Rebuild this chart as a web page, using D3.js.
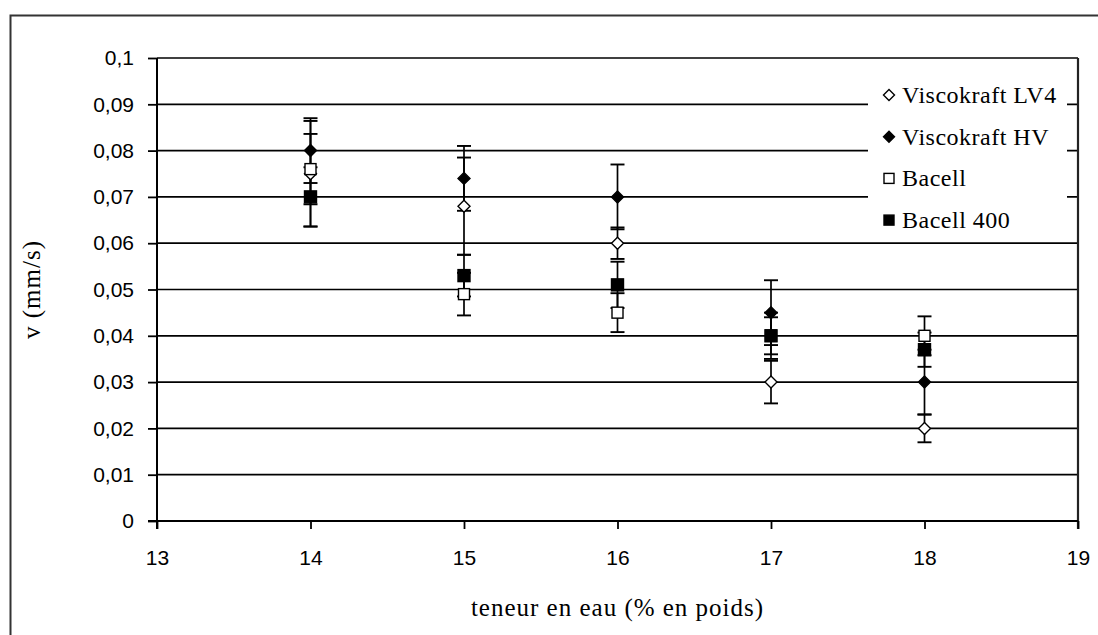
<!DOCTYPE html>
<html>
<head>
<meta charset="utf-8">
<script src="https://cdn.jsdelivr.net/npm/d3@7"></script>
<style>
  html, body { margin: 0; padding: 0; background: #fff; }
  svg { display: block; }
</style>
</head>
<body>
<svg id="chart" width="1098" height="635"></svg>
<script>
// ---- data ----
const xValues = [14, 15, 16, 17, 18];
const lv4 = [0.075, 0.068, 0.060, 0.030, 0.020];
const lv4Err = [0.0114, 0.0105, 0.0034, 0.0046, 0.003];
const hv = [0.080, 0.074, 0.070, 0.045, 0.030];
const hvErr = [0.007, 0.007, 0.007, 0.007, 0.007];
const bacell = [0.076, 0.049, 0.045, 0.040, 0.040];
const bacellErr = [0.0076, 0.0046, 0.0042, 0.004, 0.0042];
const bacell400 = [0.070, 0.053, 0.051, 0.040, 0.037];
const bacell400Err = [0.0064, 0.0045, 0.005, 0.005, 0.0037];
const seriesNames = ["Viscokraft LV4", "Viscokraft HV", "Bacell", "Bacell 400"];
const xTicks = [13, 14, 15, 16, 17, 18, 19];
const yTicks = [0, 0.01, 0.02, 0.03, 0.04, 0.05, 0.06, 0.07, 0.08, 0.09, 0.1];
const xTitle = "teneur en eau (% en poids)";
const yTitle = "v (mm/s)";

// ---- setup ----
const svg = d3.select("#chart");
const sansFont = "'Liberation Sans', Arial, sans-serif";
const serifFont = "'Liberation Serif', 'Times New Roman', serif";

const x = d3.scaleLinear().domain([13, 19]).range([157, 1078]);
const y = d3.scaleLinear().domain([0, 0.1]).range([521, 58]);

const series = [
  { name: seriesNames[0], vals: lv4, err: lv4Err, shape: "diamond", fill: "#fff" },
  { name: seriesNames[1], vals: hv, err: hvErr, shape: "diamond", fill: "#000" },
  { name: seriesNames[2], vals: bacell, err: bacellErr, shape: "square", fill: "#fff" },
  { name: seriesNames[3], vals: bacell400, err: bacell400Err, shape: "square", fill: "#000" }
];

// outer chart border
svg.append("rect")
  .attr("x", 10.5).attr("y", 15.5)
  .attr("width", 1200).attr("height", 700)
  .attr("fill", "#fff").attr("stroke", "#333").attr("stroke-width", 2);

// gridlines
svg.append("g").selectAll("line").data(yTicks.filter(d => d > 0)).join("line")
  .attr("x1", x(13)).attr("x2", x(19))
  .attr("y1", d => y(d)).attr("y2", d => y(d))
  .attr("stroke", "#000").attr("stroke-width", 1.7);

// right border line of plot
svg.append("line")
  .attr("x1", x(19)).attr("x2", x(19))
  .attr("y1", y(0.1)).attr("y2", y(0) + 8)
  .attr("stroke", "#222").attr("stroke-width", 2.2);

// axes
const fmt = d => d === 0 ? "0" : String(+d.toFixed(2)).replace(".", ",");
const yAxis = svg.append("g")
  .attr("transform", `translate(${x(13)},0)`)
  .call(d3.axisLeft(y).tickValues(yTicks).tickFormat(fmt).tickSize(9).tickPadding(14));
const xAxis = svg.append("g")
  .attr("transform", `translate(0,${y(0)})`)
  .call(d3.axisBottom(x).tickValues(xTicks).tickFormat(d3.format("d")).tickSize(8).tickPadding(21));

[yAxis, xAxis].forEach(a => {
  a.select(".domain").remove();
  a.selectAll(".tick line").attr("stroke", "#000").attr("stroke-width", 1.8);
  a.selectAll(".tick text").attr("fill", "#000")
    .style("font-family", sansFont).style("font-size", "21px");
});
// axis lines
svg.append("line").attr("x1", x(13)).attr("x2", x(13))
  .attr("y1", y(0.1)).attr("y2", y(0) + 8)
  .attr("stroke", "#000").attr("stroke-width", 2);
svg.append("line").attr("x1", x(13) - 9).attr("x2", x(19))
  .attr("y1", y(0)).attr("y2", y(0))
  .attr("stroke", "#000").attr("stroke-width", 2);

// error bars
const capHalf = 7;
const eg = svg.append("g");
series.forEach(s => {
  s.vals.forEach((v, i) => {
    const cx = x(xValues[i]);
    const top = y(v + s.err[i]), bot = y(v - s.err[i]);
    eg.append("line").attr("x1", cx).attr("x2", cx).attr("y1", top).attr("y2", bot)
      .attr("stroke", "#000").attr("stroke-width", 1.7);
    [top, bot].forEach(yy => {
      eg.append("line").attr("x1", cx - capHalf).attr("x2", cx + capHalf)
        .attr("y1", yy).attr("y2", yy)
        .attr("stroke", "#000").attr("stroke-width", 1.9);
    });
  });
});

// markers
function drawMarker(g, shape, fill, cx, cy, size) {
  const h = size / 2;
  if (shape === "diamond") {
    g.append("path")
      .attr("d", `M${cx},${cy - h}L${cx + h},${cy}L${cx},${cy + h}L${cx - h},${cy}Z`)
      .attr("fill", fill).attr("stroke", "#000").attr("stroke-width", 1.4);
  } else {
    g.append("rect").attr("x", cx - h).attr("y", cy - h)
      .attr("width", size).attr("height", size)
      .attr("fill", fill).attr("stroke", "#000").attr("stroke-width", 1.4);
  }
}
const mg = svg.append("g");
series.forEach(s => {
  s.vals.forEach((v, i) => {
    const sz = s.shape === "diamond" ? 12 : (s.fill === "#000" ? 12 : 11);
    drawMarker(mg, s.shape, s.fill, x(xValues[i]), y(v), sz);
  });
});

// legend
const lg = svg.append("g");
lg.append("rect").attr("x", 868).attr("y", 62).attr("width", 199).attr("height", 174)
  .attr("fill", "#fff");
series.forEach((s, i) => {
  const cy = 95 + i * 41.7;
  drawMarker(lg, s.shape, s.fill, 889, cy, s.shape === "diamond" ? 11 : 10);
  lg.append("text").attr("x", 902).attr("y", cy + 8)
    .style("font-family", serifFont).style("font-size", "24px")
    .style("letter-spacing", "0.5px")
    .attr("fill", "#000").text(s.name);
});

// axis titles
svg.append("text").attr("x", (x(13) + x(19)) / 2).attr("y", 616)
  .attr("text-anchor", "middle")
  .style("font-family", serifFont).style("font-size", "25px")
  .style("letter-spacing", "1px")
  .text(xTitle);
svg.append("text")
  .attr("transform", `translate(40,${(y(0) + y(0.1)) / 2}) rotate(-90)`)
  .attr("text-anchor", "middle")
  .style("font-family", serifFont).style("font-size", "25px")
  .style("letter-spacing", "1px")
  .text(yTitle);
</script>
</body>
</html>
